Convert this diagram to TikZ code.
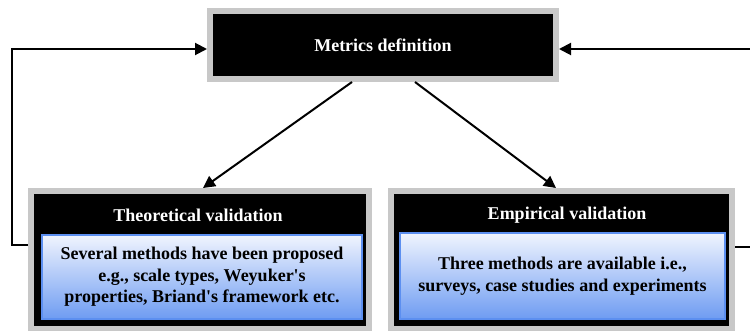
\documentclass[tikz,border=0pt]{standalone}
\usepackage{fontspec}
\setmainfont{Liberation Serif}
\usepackage{tikz}
\usetikzlibrary{arrows.meta}
\definecolor{frame}{HTML}{C8C8C8}
\definecolor{boxline}{HTML}{5C8FF0}
\definecolor{boxtop}{HTML}{F0F4FE}
\definecolor{boxbot}{HTML}{6E9CF2}

\begin{document}
\begin{tikzpicture}[x=1pt, y=-1pt,
  font=\fontsize{18}{21.6}\selectfont\bfseries,
  >={Triangle[length=12pt,width=12pt]},
  stage/.style={draw=frame, fill=black, line width=6pt, inner sep=0pt},
  note/.style={draw=boxline, line width=1.5pt, top color=boxtop, bottom color=boxbot,
    align=center, inner sep=0pt},
  title/.style={text=white},
  link/.style={->, line width=2pt}
]
  \useasboundingbox (0,0) rectangle (750,331);

  \node[stage, minimum width=346pt, minimum height=68pt] (defn) at (383,45) {};
  \node[title] at (defn) {Metrics definition};

  \node[stage, minimum width=338pt, minimum height=138pt] (theo) at (200,260) {};
  \node[title] at (198,215) {Theoretical validation};
  \node[note, minimum width=320pt, minimum height=84pt] (theonote) at (202,277)
    {Several methods have been proposed\\ e.g., scale types, Weyuker\textquotesingle s\\ properties, Briand\textquotesingle s framework etc.};

  \node[stage, minimum width=341pt, minimum height=138pt] (emp) at (561.5,260) {};
  \node[title] at (567,215) {Empirical validation};
  \node[note, minimum width=325pt, minimum height=86pt] (empnote) at (562.5,276)
    {Three methods are available i.e.,\\ surveys, case studies and experiments};

  \draw[link] ([xshift=-31pt]defn.south) -- ([xshift=3pt]theo.north);
  \draw[link] ([xshift=32pt]defn.south) -- ([xshift=-5.5pt]emp.north);
  \draw[link] ([yshift=15pt]theo.west) -- ++(-16,0) |- ([yshift=-4pt]defn.west);
  \draw[link] ([yshift=13pt]emp.east) -- ++(20,0) |- ([yshift=-4pt]defn.east);
\end{tikzpicture}
\end{document}
